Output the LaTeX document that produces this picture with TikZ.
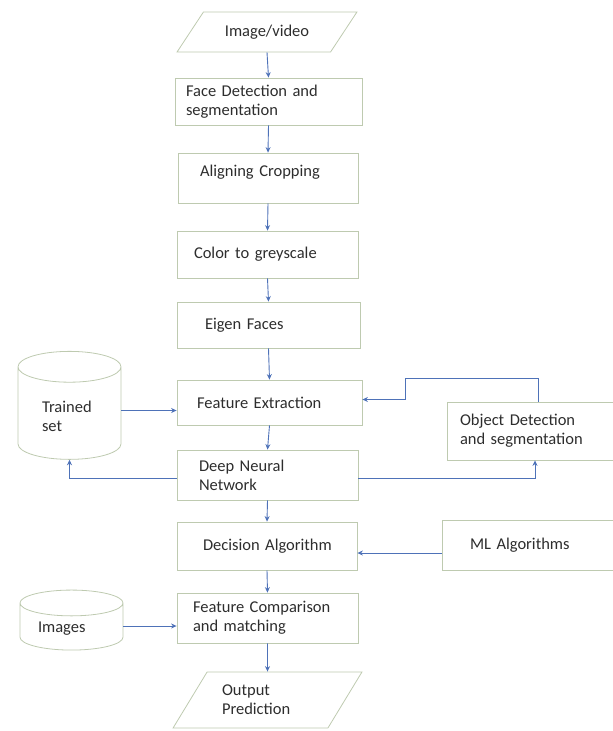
\documentclass[tikz,border=0pt]{standalone}
\usepackage{fontspec}
\setmainfont{Carlito}
\usetikzlibrary{shapes.geometric,arrows.meta}
\definecolor{boxc}{RGB}{190,202,176}
\definecolor{arrc}{RGB}{78,114,184}
\definecolor{txtc}{RGB}{45,45,45}

\begin{document}
\begin{tikzpicture}[>={Stealth[length=5.5pt,width=5pt]},x=1pt,y=-1pt,
        font=\fontsize{16.5}{19}\selectfont,
        box/.style={draw=boxc,line width=0.8pt,text=txtc,align=left,inner xsep=0pt,inner ysep=0pt,
            execute at begin node={\leftskip=#1}},
        io/.style={draw=boxc,line width=0.8pt,text=txtc,trapezium,trapezium stretches=true},
        dbase/.style={draw=boxc,line width=0.8pt,text=txtc,cylinder,shape border rotate=90,align=left},
        conn/.style={draw=arrc,line width=0.9pt,->}]
                        \clip (0,0) rectangle (613,731);
                        \node (img) [io,trapezium left angle=48,trapezium right angle=132,minimum width=180pt,minimum height=40pt] at (267,32) {Image/video};
                        \node (face) [box=11pt,text width=187pt,minimum height=47pt] at (268.5,101.5) {Face Detection and\\segmentation};
                        \node (crop) [box=22pt,text width=180pt,minimum height=50pt] at (268,178) {Aligning Cropping\\[-4pt]\mbox{}};
                        \node (grey) [box=17pt,text width=181pt,minimum height=47pt] at (267.5,254.5) {Color to greyscale};
                        \node (eigen) [box=28pt,text width=183pt,minimum height=46pt] at (268.5,325) {Eigen Faces};
                        \node (featext) [box=20pt,text width=185pt,minimum height=45pt] at (269.5,402.5) {Feature Extraction};
                        \node (dnn) [box=22pt,text width=181pt,minimum height=50pt] at (267.5,475) {Deep Neural\\Network};
                        \node (decision) [box=26pt,text width=180pt,minimum height=48pt] at (267,546) {Decision Algorithm};
                        \node (featcomp) [box=16pt,text width=181pt,minimum height=50pt] at (267.5,618) {Feature Comparison\\and matching};
                        \node (output) [io,align=left,text width=91pt,trapezium left angle=53,trapezium right angle=127,minimum width=189pt,minimum height=56pt] at (267.5,700) {Output\\Prediction};
                        \node (obj) [box=13pt,text width=176pt,minimum height=58pt] at (535,431) {Object Detection\\and segmentation};
                        \node (ml) [box=28pt,text width=181pt,minimum height=50pt] at (532.5,545) {ML Algorithms};
                        \node (trained) [dbase,aspect=0.5,text width=55pt,minimum width=103pt,minimum height=108pt] at (69.5,416) {Trained\\set};
                        \node (images) [dbase,aspect=0.35,text width=67pt,minimum width=103pt,minimum height=60pt] at (71.5,629) {Images};
                        \coordinate (bend) at (405,378.5);
                        \draw [conn](img.south)--(face.north);
                        \draw [conn](face.south)--(crop.north);
                        \draw [conn](crop.south)--(grey.north);
                        \draw [conn](grey.south)--(eigen.north);
                        \draw [conn](eigen.south)--(featext.north);
                        \draw [conn](featext.south)--(dnn.north);
                        \draw [conn](dnn.south)--(decision.north);
                        \draw [conn](decision.south)--(featcomp.north);
                        \draw [conn](featcomp.south)--(output.north);
                        \draw [conn]([yshift=-8pt]featext.west -| trained.east)--([yshift=-8pt]featext.west);
                        \draw [conn]([yshift=-3.5pt]dnn.west)-|(trained.south);
                        \draw [conn]([yshift=-3.5pt]dnn.east)-|(obj.south);
                        \draw [conn]([xshift=3pt]obj.north)|-(bend)|-([yshift=3pt]featext.east);
                        \draw [conn]([yshift=-8pt]ml.west)--([yshift=-8pt]ml.west -| decision.east);
                        \draw [conn]([yshift=-8pt]featcomp.west -| images.east)--([yshift=-8pt]featcomp.west);
                    \end{tikzpicture}
\end{document}
